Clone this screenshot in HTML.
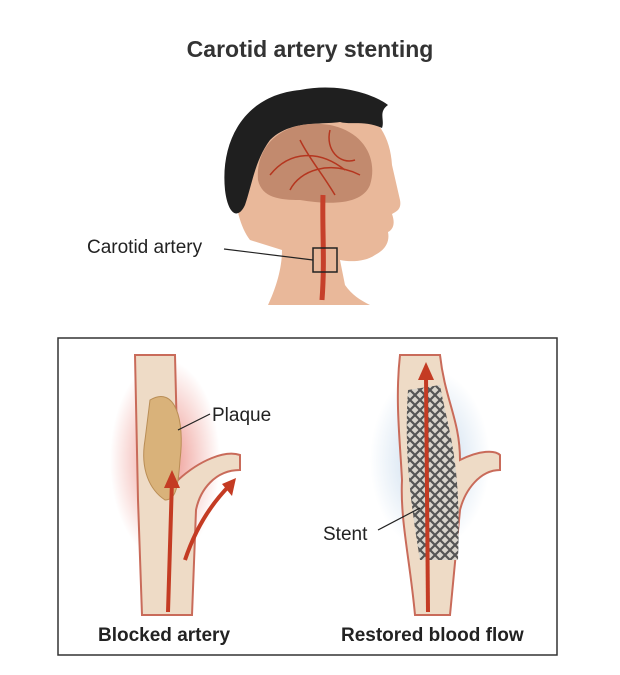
<!DOCTYPE html>
<html><head><meta charset="utf-8"><style>
body{margin:0;background:#fff;width:620px;height:670px;overflow:hidden;font-family:"Liberation Sans",sans-serif}
</style></head><body>
<svg width="620" height="670" viewBox="0 0 620 670" xmlns="http://www.w3.org/2000/svg">
<defs>
<radialGradient id="glow" cx="0.5" cy="0.5" r="0.5"><stop offset="0" stop-color="#e0483a" stop-opacity="0.6"/><stop offset="1" stop-color="#e0483a" stop-opacity="0"/></radialGradient>
<radialGradient id="bglow" cx="0.5" cy="0.5" r="0.5"><stop offset="0" stop-color="#a9c6e2" stop-opacity="0.7"/><stop offset="1" stop-color="#a9c6e2" stop-opacity="0"/></radialGradient>
<pattern id="mesh" width="10" height="10" patternUnits="userSpaceOnUse"><rect width="10" height="10" fill="#d9d5cc"/><path d="M0 0L10 10M10 0L0 10" stroke="#555" stroke-width="2.2"/></pattern>
</defs>
<text x="310" y="57" text-anchor="middle" font-size="23" font-weight="bold" fill="#333">Carotid artery stenting</text>
<!-- head -->
<path d="M268 305 C275 290 282 270 282 250 L250 240 C235 220 230 180 240 150 C250 110 290 95 330 100 C370 105 390 130 392 165 L400 200 C402 210 395 212 392 214 C396 225 392 230 388 232 C390 242 385 250 375 255 C365 262 350 262 340 260 L345 285 C352 295 360 300 370 305 Z" fill="#e9b89a"/>
<path d="M225 190 C220 140 245 95 300 90 C340 82 375 95 388 105 C378 112 385 120 382 128 C365 120 350 125 340 122 C320 125 290 120 270 140 C255 160 252 185 245 205 C238 220 228 215 225 190 Z" fill="#1f1f1f"/>
<path d="M258 180 C255 140 290 118 330 125 C365 132 378 160 370 185 C362 205 330 205 300 200 C280 200 262 198 258 180 Z" fill="#c28a6e"/>
<path d="M270 175 C290 150 320 150 345 170 M290 190 C300 170 330 160 360 175 M300 140 C310 160 320 170 335 195 M330 130 C325 150 340 165 355 160" stroke="#b5361f" stroke-width="1.5" fill="none"/>
<path d="M323 195 C322 230 325 260 322 300" stroke="#c6402a" stroke-width="5" fill="none"/>
<rect x="313" y="248" width="24" height="24" fill="none" stroke="#222" stroke-width="1.5"/>
<line x1="224" y1="249" x2="313" y2="260" stroke="#222" stroke-width="1.2"/>
<text x="87" y="253" font-size="19" fill="#222">Carotid artery</text>
<!-- box -->
<rect x="58" y="338" width="499" height="317" fill="#fff" stroke="#333" stroke-width="1.5"/>
<!-- blocked artery -->
<ellipse cx="165" cy="460" rx="55" ry="100" fill="url(#glow)"/>
<path d="M135 355 L175 355 L178 480 C200 460 225 450 240 455 L240 470 C215 470 200 490 196 510 L192 615 L142 615 L138 500 Z" fill="#eedbc6" stroke="#c96b5a" stroke-width="2"/>
<path d="M150 400 C175 385 185 420 180 460 C178 490 175 500 165 500 C150 490 140 470 145 440 Z" fill="#d9b27a" stroke="#b98d55" stroke-width="1"/>
<path d="M168 612 L172 480 M185 560 C195 530 210 505 230 485" stroke="#c43b23" stroke-width="4" fill="none"/>
<path d="M172 470 L164 488 L180 488 Z M236 478 L222 484 L232 496 Z" fill="#c43b23"/>
<line x1="178" y1="430" x2="210" y2="414" stroke="#222" stroke-width="1.2"/>
<text x="212" y="421" font-size="19" fill="#222">Plaque</text>
<!-- restored -->
<ellipse cx="430" cy="460" rx="60" ry="90" fill="url(#bglow)"/>
<path d="M400 355 L440 355 C445 400 460 420 460 460 C480 450 495 450 500 455 L500 470 C480 470 465 490 460 510 L450 615 L415 615 C410 560 400 520 402 480 C400 440 395 400 400 355 Z" fill="#eedbc6" stroke="#c96b5a" stroke-width="2"/>
<path d="M408 390 L440 385 C448 430 462 460 458 560 L420 560 C410 500 404 450 408 390 Z" fill="url(#mesh)"/>
<path d="M428 612 L426 375" stroke="#c43b23" stroke-width="4" fill="none"/>
<path d="M426 362 L418 380 L434 380 Z" fill="#c43b23"/>
<line x1="378" y1="530" x2="420" y2="508" stroke="#222" stroke-width="1.2"/>
<text x="323" y="540" font-size="19" fill="#222">Stent</text>
<text x="98" y="641" font-size="19" font-weight="bold" fill="#222">Blocked artery</text>
<text x="341" y="641" font-size="19" font-weight="bold" fill="#222">Restored blood flow</text>
</svg>
</body></html>
